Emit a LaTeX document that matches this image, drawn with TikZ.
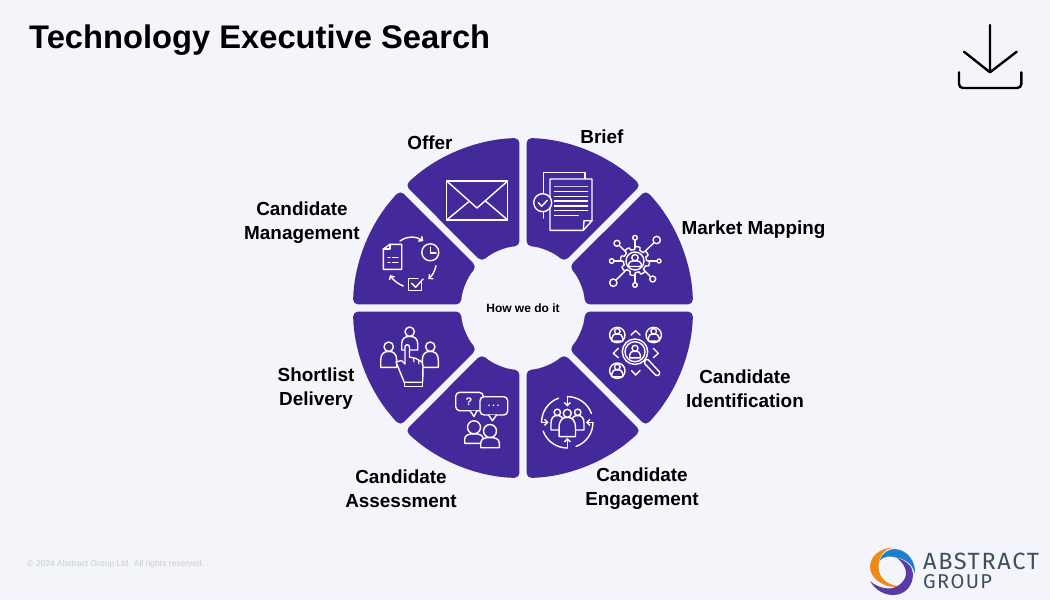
\documentclass[tikz,border=0pt]{standalone}
\usepackage{fontspec}
\setmainfont{Liberation Sans}
\newfontfamily\logofont[LetterSpace=7]{Fira Sans}
\usetikzlibrary{arrows.meta,calc}
\definecolor{paper}{HTML}{F3F5FA}
\definecolor{brand}{HTML}{44299B}
\definecolor{logoink}{HTML}{3E4E5B}
\definecolor{finegray}{HTML}{C9CCD4}
\definecolor{logoblue}{HTML}{1F7FC9}
\definecolor{logoorange}{HTML}{EF8A17}
\definecolor{logopurple}{HTML}{5B3AA6}

\begin{document}
\begin{tikzpicture}[x=1pt,y=-1pt, every node/.style={font=\bfseries\fontsize{18.9}{24}\selectfont,align=center,text=black,inner sep=0pt},
sector/.style={fill=brand,rounded corners=5pt},
icon/.style={draw=white,line width=1.4pt,line cap=round,line join=round},
cycarrow/.style={icon,-{Straight Barb[length=3pt,width=6pt]}},
pics/person/.style n args={3}{code={
\draw[icon,fill=brand] ({-#2},#3) -- ({-#2},{#1+0.55*(#3-#1)}) .. controls ({-#2},{#1+0.15*(#3-#1)}) and ({-0.6*#2},#1) .. (0,#1) .. controls ({0.6*#2},#1) and (#2,{#1+0.15*(#3-#1)}) .. (#2,{#1+0.55*(#3-#1)}) -- (#2,#3) -- cycle;
\draw[icon,fill=brand] (0,0) circle[radius=#1];}}]
\useasboundingbox (0,0) rectangle (1050,600);
\fill[paper] (0,0) rectangle (1050,600);
\node[anchor=west,font=\bfseries\fontsize{32.7}{40}\selectfont] (title) at (29,40) {Technology Executive Search};
\coordinate (hub) at (523,308);
\begin{scope}[shift={(hub)}]
\foreach \a in {-90,-45,...,225}{
\fill[sector] ({\a+1.2}:170) arc[start angle={\a+1.2},end angle={\a+43.8},radius=170] -- ({\a+41.76}:62) arc[start angle={\a+41.76},end angle={\a+3.24},radius=62] -- cycle;
}
\end{scope}
\node[font=\bfseries\fontsize{12}{14}\selectfont] (centre) at (hub) {How we do it};
\node (offer) at (430,143) {Offer};
\node (brief) at (602,137) {Brief};
\node (mapping) at (753.5,230) {Market Mapping};
\node (identify) at (745,388.5) {Candidate\\Identification};
\node (engage) at (642,488.5) {Candidate\\Engagement};
\node (assess) at (401,488.5) {Candidate\\Assessment};
\node (shortlist) at (316,388.5) {Shortlist\\Delivery};
\node (manage) at (302,222.5) {Candidate\\Management};
\draw[icon] (446.7,181) rectangle (507.7,220);
\draw[icon] (446.7,181) -- (477,208) -- (507.7,181);
\draw[icon] (446.7,220) -- (469,201.5) (507.7,220) -- (485.5,201);
\draw[icon] (383.3,249) -- (390,244.3) -- (401.7,244.3) -- (401.7,269.3) -- (383.3,269.3) -- cycle;
\draw[icon] (390,244.3) -- (390,249) -- (383.3,249);
\foreach \ly in {257.3,262.3}{\draw[icon] (388,\ly) -- (390,\ly) (392.5,\ly) -- (398,\ly);}
\draw[icon] (430.3,252.3) circle[radius=8.5];
\draw[icon] (430.3,247) -- (430.3,253) -- (436,253);
\draw[icon] (421.5,282) -- (421.5,290.7) -- (408.3,290.7) -- (408.3,278.3) -- (418,278.3);
\draw[icon] (411.7,283.3) -- (415.7,287.3) -- (423,279);
\draw[cycarrow] (400,241) .. controls (407,236) and (416,236) .. (423.3,241);
\draw[cycarrow] (436,265.7) .. controls (435,271) and (432,276) .. (428.3,279);
\draw[cycarrow] (403.3,286) .. controls (398,284) and (393,280) .. (390,275);
\draw[icon] (543.3,218) -- (543.3,172.7) -- (585,172.7) -- (585,179);
\draw[icon,fill=brand] (550,179) -- (592,179) -- (592,220.7) -- (583.3,230.3) -- (550,230.3) -- cycle;
\draw[icon] (592,220.7) -- (584,220.7) -- (583.3,230.3);
\foreach \ly in {191.7,196.3,201,206,210.7}{\draw[icon,line width=1.1pt] (554.3,\ly) -- (587.7,\ly);}
\draw[icon,line width=1.1pt,draw=white!75!brand] (554.3,186.7) -- (587.7,186.7);
\draw[icon,line width=1.1pt] (554.3,215.7) -- (578.3,215.7);
\draw[icon,fill=brand] (542.7,202.7) circle[radius=9];
\draw[icon] (538.3,202.7) -- (541.7,206.3) -- (547.3,200.3);
\foreach \px/\py/\pr in {635/237.7/2.3,617/243.3/3,656.7/240/3.7,611.7/261/2.3,659/261/2,613.3/282.7/3.7,652.7/279/3,635/285/2.3}{
\draw[icon] (635,261) -- (\px,\py);
\draw[icon,fill=brand] (\px,\py) circle[radius=\pr];
}
\draw[icon,fill=brand] plot[domain=0:360,samples=145] ({635+(13+1.5*sign(sin(8*\x)))*cos(\x)},{261+(13+1.5*sign(sin(8*\x)))*sin(\x)}) -- cycle;
\draw[icon] (635,261) circle[radius=9];
\pic at (635,257.7) {person={3.2}{6.3}{8.8}};
\draw[icon,fill=brand,rounded corners=1.5pt] (645,360.5) -- (647,358.5) -- (660.5,373) -- (657,376.5) -- (644,363) -- cycle;
\foreach \px/\py in {617.3/335,653.7/335,617.3/370.7}{
\draw[icon] (\px,\py) circle[radius=7.7];
\pic at (\px,{\py-3.7}) {person={2.8}{5.4}{9.8}};
}
\draw[icon] (631,335) -- (635.7,330.7) -- (640,335);
\draw[icon] (631.7,370.7) -- (635.7,375) -- (640,370.7);
\draw[icon] (618.3,348.3) -- (613.3,353.3) -- (618.3,357.7);
\draw[icon] (653.3,348.3) -- (658.3,353.3) -- (653.3,357.7);
\draw[icon,fill=brand] (635,351.7) circle[radius=12.7];
\draw[icon] (635,351.7) circle[radius=10];
\pic at (635,348.3) {person={3}{5.3}{9.5}};
\foreach \a/\b in {-90/-20,0/70,90/160,180/250}{
\draw[icon] ($(567.3,422.3)+(\a:25.7)$) arc[start angle=\a,end angle=\b,radius=25.7];
}
\draw[cycarrow] (567.3,396.6) -- (567.3,406.5);
\draw[cycarrow] (593,422.3) -- (586,422.3);
\draw[cycarrow] (567.3,448) -- (567.3,438);
\draw[cycarrow] (541.6,422.3) -- (548.5,422.3);
\pic at (557.3,412.3) {person={3.2}{6.3}{17.7}};
\pic at (577.7,412.3) {person={3.2}{6.3}{17.7}};
\pic at (567.3,413.3) {person={4}{8.2}{23.3}};
\pic at (474,427.3) {person={6.5}{9.3}{16}};
\pic at (490,431) {person={6.5}{9.3}{16.7}};
\draw[icon,fill=brand,rounded corners=4pt] (455.7,392.3) rectangle (483.3,410.7);
\draw[icon,fill=brand] (470,410.7) -- (474,416.5) -- (477,410.7);
\draw[icon,fill=brand,rounded corners=4pt] (480,396.7) rectangle (507.7,415);
\draw[icon,fill=brand] (488.5,415) -- (492.5,420.7) -- (496.5,415);
\node[text=white,font=\bfseries\fontsize{11}{12}\selectfont] (query) at (469,401.5) {?};
\foreach \px in {489,493.5,498}{\fill[white] (\px,405.3) circle[radius=0.9];}
\pic at (409.7,331.7) {person={4.7}{8}{18.3}};
\pic at (388.7,346.7) {person={4.7}{8}{20.7}};
\pic at (430.3,346.7) {person={4.7}{8}{20.7}};
\draw[icon,fill=brand] (404.3,382.3) -- (396,362) -- (401.5,360.5) -- (405,364) -- (405,347) .. controls (405,344) and (409.5,344) .. (409.5,347) -- (409.5,357) -- (416,358.5) -- (422,362) -- (423,366) -- (422.7,382.3) -- cycle;
\draw[icon,line width=1.1pt] (413.5,358) -- (414,362) (418.5,360) -- (419,364);
\draw[icon,fill=brand] (404.3,382.3) rectangle (422.7,386.7);
\fill[logoorange] (893.3,547.6) .. controls (880,548) and (870,556) .. (870,567) .. controls (870,580) and (888,590) .. (900,586) .. controls (888,586) and (878.5,578) .. (878.5,567) .. controls (878.5,556) and (884,549) .. cycle;
\fill[logopurple] (870,581) .. controls (876,591) and (885,595) .. (893,595) .. controls (906,595) and (913,585) .. (913,574) .. controls (913,568) and (908,561) .. (897,558) .. controls (902,562) and (906,567) .. (906,573) .. controls (906,582) and (896,589) .. (888,588.5) .. controls (881,588) and (874,585) .. cycle;
\fill[logoblue] (879.5,561) .. controls (882,553) and (888,549) .. (895,549) .. controls (908,550) and (916,562) .. (915,574) .. controls (913,566) and (908,560) .. (898,558) .. controls (890,555.5) and (883,556) .. cycle;
\node[anchor=west,text=logoink,font=\logofont\fontsize{23.5}{24}\selectfont\mdseries] (abstract) at (923,561) {ABSTRACT};
\node[anchor=west,text=logoink,font=\logofont\fontsize{20}{24}\selectfont\mdseries] (group) at (923,582) {GROUP};
\node[anchor=west,text=finegray,font=\fontsize{8.5}{10}\selectfont\mdseries] (rights) at (27,564) {© 2024 Abstract Group Ltd. All rights reserved.};
\draw[line width=2.4pt,line cap=round,line join=round] (990,25) -- (990,72) (964,51.7) -- (990,72.3) -- (1016.7,51.7);
\draw[line width=2.4pt,line cap=round,rounded corners=4pt] (959,72.3) -- (959,88) -- (1021.3,88) -- (1021.3,72.3);
\end{tikzpicture}
\end{document}
